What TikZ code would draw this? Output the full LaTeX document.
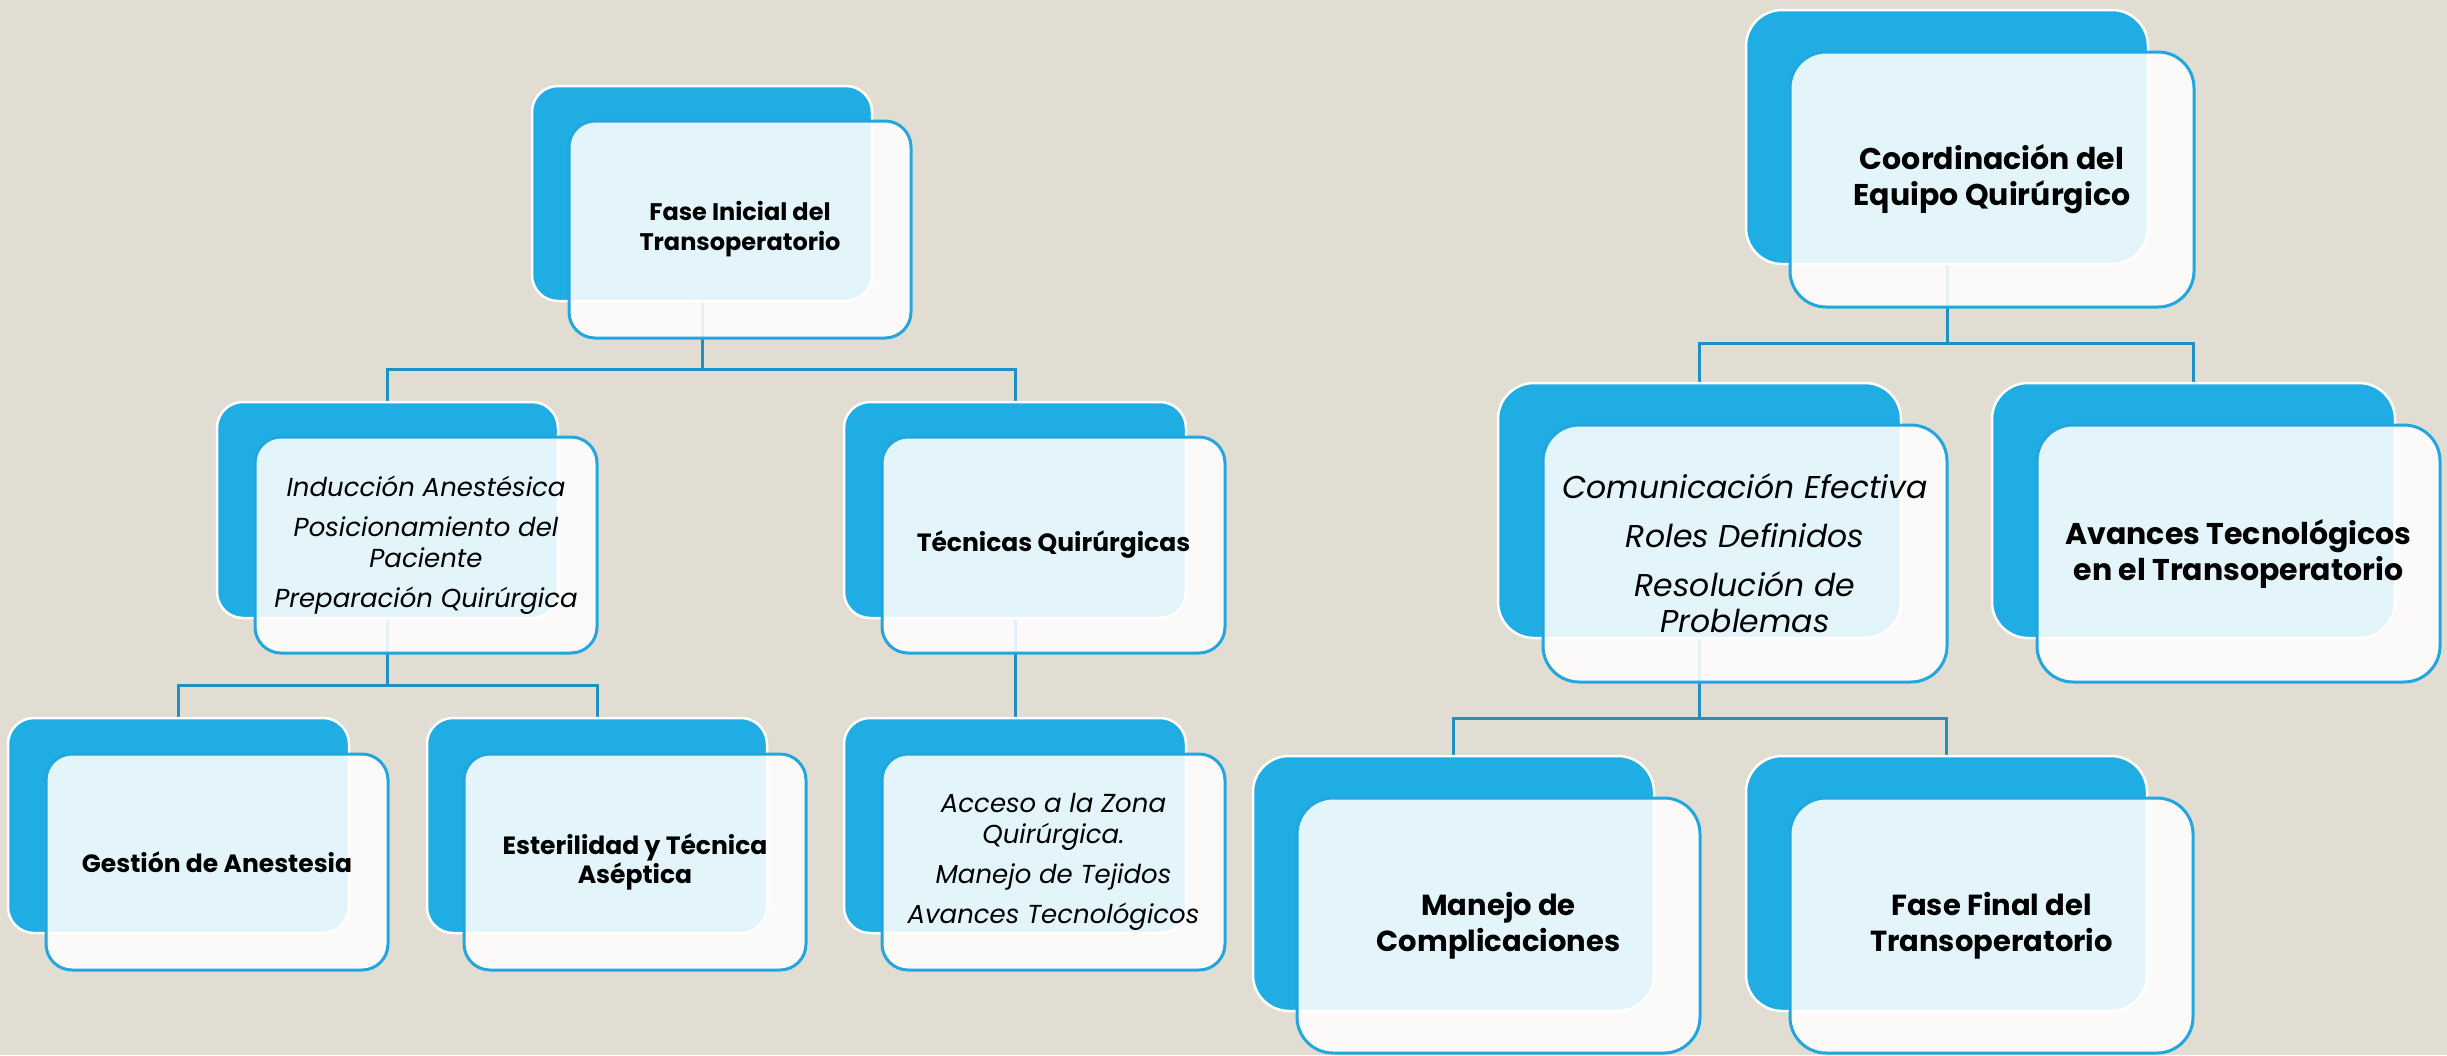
\documentclass[tikz,border=0pt]{standalone}
\usepackage{fontspec}
\setmainfont{Poppins}
\usetikzlibrary{backgrounds}
\definecolor{bgc}{HTML}{E2DDD2}
\definecolor{darkb}{HTML}{1FADE3}
\definecolor{edgeb}{HTML}{22A6DE}
\definecolor{linec}{HTML}{1E90C4}
\tikzset{
  backbox/.style={draw=white, line width=2.5pt, fill=darkb, rectangle, inner sep=0pt},
  frontbox/.style={draw=edgeb, line width=3pt, fill=white, fill opacity=0.88, text opacity=1,
    rectangle, inner sep=0pt, align=center, text=black},
  conn/.style={draw=linec, line width=3pt},
  lbold/.style={font=\fontsize{25}{29}\selectfont\bfseries},
  lboldsm/.style={font=\fontsize{24}{30}\selectfont\bfseries},
  lital/.style={font=\fontsize{26}{31}\selectfont\itshape},
  rbold/.style={font=\fontsize{30}{36}\selectfont\bfseries},
  rboldsm/.style={font=\fontsize{29}{36}\selectfont\bfseries},
  rital/.style={font=\fontsize{31.5}{36}\selectfont\itshape},
}
\newcommand\bkbox[6]{\node[backbox, rounded corners=#6, minimum width={(#4)-(#2)}, minimum height={(#5)-(#3)}] (#1) at ({((#2)+(#4))/2},{((#3)+(#5))/2}) {};}
\newcommand\frbox[8]{\node[frontbox, rounded corners=#6, #7, minimum width={(#4)-(#2)}, minimum height={(#5)-(#3)}] (#1) at ({((#2)+(#4))/2},{((#3)+(#5))/2}) {#8};}
\begin{document}
\begin{tikzpicture}[x=1pt, y=-1pt]
\useasboundingbox (0,0) rectangle (2447,1055);
% back boxes
\bkbox{R1}{532}{86}{872}{301}{26}
\bkbox{A}{217}{402}{558}{618}{26}
\bkbox{B}{844}{402}{1186}{618}{26}
\bkbox{C}{8}{718}{349}{933}{26}
\bkbox{D}{427}{718}{767}{933}{26}
\bkbox{E}{844}{718}{1186}{933}{26}
\bkbox{R2}{1746}{10}{2148}{264}{36}
\bkbox{F}{1498}{383}{1901}{638}{36}
\bkbox{G}{1992}{383}{2395}{638}{36}
\bkbox{H}{1253}{756}{1654}{1011}{36}
\bkbox{I}{1746}{756}{2147}{1011}{36}
% front boxes
\frbox{R1f}{569}{121}{911}{338}{26}{lboldsm}{Fase Inicial del\\Transoperatorio}
\frbox{Af}{255}{437}{597}{653}{26}{lital}{Inducción Anestésica\\[9pt]Posicionamiento del\\Paciente\\[9pt]Preparación Quirúrgica}
\frbox{Bf}{882}{437}{1225}{653}{26}{lbold}{Técnicas Quirúrgicas}
\frbox{Cf}{46}{754}{388}{970}{26}{lbold}{Gestión de Anestesia}
\frbox{Df}{464}{754}{806}{970}{26}{lbold}{Esterilidad y Técnica\\Aséptica}
\frbox{Ef}{882}{754}{1225}{970}{26}{lital}{Acceso a la Zona\\Quirúrgica.\\[9pt]Manejo de Tejidos\\[9pt]Avances Tecnológicos}
\frbox{R2f}{1790}{52}{2194}{307}{36}{rbold}{Coordinación del\\Equipo Quirúrgico}
\frbox{Ff}{1543}{425}{1947}{682}{36}{rital}{Comunicación Efectiva\\[13pt]Roles Definidos\\[13pt]Resolución de\\Problemas}
\frbox{Gf}{2037}{425}{2440}{682}{36}{rbold}{Avances Tecnológicos\\en el Transoperatorio}
\frbox{Hf}{1297}{798}{1700}{1053}{36}{rboldsm}{Manejo de\\Complicaciones}
\frbox{If}{1790}{798}{2193}{1053}{36}{rboldsm}{Fase Final del\\Transoperatorio}
% connectors and background
\begin{pgfonlayer}{background}
\fill[bgc] (0,0) rectangle (2447,1055);
\coordinate (m1) at (0,369);
\coordinate (m2) at (0,685);
\coordinate (m3) at (0,343);
\coordinate (m4) at (0,718);
\draw[conn] (R1.south) -- (R1.south |- m1) -| (A.north);
\draw[conn] (R1.south |- m1) -| (B.north);
\draw[conn] (A.south) -- (A.south |- m2) -| (C.north);
\draw[conn] (A.south |- m2) -| (D.north);
\draw[conn] (B.south) -- (E.north);
\draw[conn] (R2.south) -- (R2.south |- m3) -| (F.north);
\draw[conn] (R2.south |- m3) -| (G.north);
\draw[conn] (F.south) -- (F.south |- m4) -| (H.north);
\draw[conn] (F.south |- m4) -| (I.north);
\end{pgfonlayer}
\end{tikzpicture}
\end{document}
